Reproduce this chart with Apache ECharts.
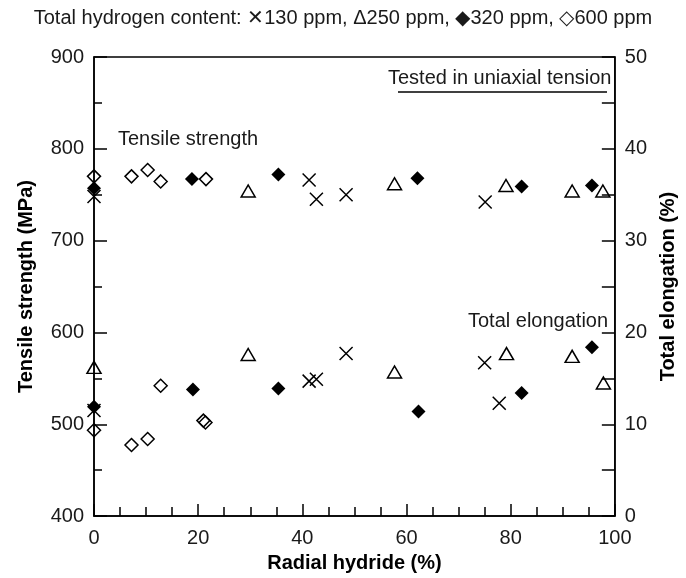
<!DOCTYPE html>
<html>
<head>
<meta charset="utf-8">
<script src="https://cdn.jsdelivr.net/npm/echarts@6/dist/echarts.min.js"></script>
<style>html,body{margin:0;padding:0;background:#fff;}#c{width:686px;height:578px;}</style>
</head>
<body>
<div id="c"></div>
<script>
// Radial hydride (%) vs tensile strength (MPa) / total elongation (%)
var h130Strength = [[0,748],[41.3,766],[42.7,745],[48.4,750],[75.1,742]];
var h130Elong    = [[0,11.5],[41.3,14.7],[42.7,14.9],[48.4,17.7],[75.0,16.7],[77.8,12.3]];
var h250Strength = [[29.6,754],[57.7,762],[79.1,760],[91.8,754],[97.7,754]];
var h250Elong    = [[0,16.2],[29.6,17.6],[57.7,15.7],[79.2,17.7],[91.8,17.4],[97.8,14.5]];
var h320Strength = [[0,757],[18.8,767],[35.4,772],[62.1,768],[82.1,759],[95.6,760]];
var h320Elong    = [[0,11.9],[19.0,13.8],[35.4,13.9],[62.3,11.4],[82.1,13.4],[95.6,18.4]];
var h600Strength = [[0,770],[7.2,770],[10.3,777],[12.8,764.5],[21.5,767]];
var h600Elong    = [[0,9.35],[7.2,7.75],[10.3,8.4],[12.8,14.2],[21.0,10.4],[21.4,10.2]];

var titleText = 'Total hydrogen content: \u2715130 ppm, \u0394250 ppm, \u25C6320 ppm, \u25C7600 ppm';
var xName = 'Radial hydride (%)';
var yLeftName = 'Tensile strength (MPa)';
var yRightName = 'Total elongation (%)';

var FONT = '"Liberation Sans", Arial, sans-serif';
var TXT = '#1a1a1a';
var chart = echarts.init(document.getElementById('c'));

var xSym = 'path://M0,0L10,10M0,10L10,0';
function mk(name, data, yi, symbol, size, filled) {
  return {
    name: name, type: 'scatter', data: data, yAxisIndex: yi,
    symbol: symbol, symbolSize: size,
    itemStyle: {
      color: filled ? '#000' : 'rgba(0,0,0,0)',
      borderColor: '#000', borderWidth: filled ? 0 : 1.5, opacity: 1
    },
    emphasis: {disabled: true}
  };
}

var tickLabel = {color: TXT, fontFamily: FONT, fontSize: 20};
var nameStyle = {color: '#000', fontFamily: FONT, fontSize: 20, fontWeight: 'bold'};

chart.setOption({
  animation: false,
  backgroundColor: '#fff',
  grid: {left: 94, right: 67, top: 57, bottom: 61, show: true, borderColor: '#000', borderWidth: 1.5},
  title: {
    text: titleText, left: 'center', top: 3,
    textStyle: {color: TXT, fontFamily: FONT, fontSize: 20, fontWeight: 'normal'}
  },
  xAxis: {
    type: 'value', min: 0, max: 100, interval: 20,
    name: xName, nameLocation: 'middle', nameGap: 36, nameTextStyle: nameStyle,
    axisLine: {lineStyle: {color: '#000', width: 1.5}},
    axisTick: {inside: true, length: 12, lineStyle: {color: '#000', width: 1.5}},
    minorTick: {show: true, splitNumber: 4, length: 9, lineStyle: {color: '#000', width: 1.5}},
    axisLabel: Object.assign({margin: 12}, tickLabel),
    splitLine: {show: false}
  },
  yAxis: [{
    type: 'value', min: 400, max: 900, interval: 100, position: 'left',
    name: yLeftName, nameLocation: 'middle', nameGap: 58, nameRotate: 90, nameTextStyle: nameStyle,
    axisLine: {show: true, lineStyle: {color: '#000', width: 1.5}},
    axisTick: {show: true, inside: true, length: 13, lineStyle: {color: '#000', width: 1.5}},
    minorTick: {show: true, splitNumber: 2, length: 8, lineStyle: {color: '#000', width: 1.5}},
    axisLabel: Object.assign({margin: 10}, tickLabel),
    splitLine: {show: false}
  }, {
    type: 'value', min: 0, max: 50, interval: 10, position: 'right',
    name: yRightName, nameLocation: 'middle', nameGap: 42, nameRotate: 90, nameTextStyle: nameStyle,
    axisLine: {show: true, lineStyle: {color: '#000', width: 1.5}},
    axisTick: {show: true, inside: true, length: 13, lineStyle: {color: '#000', width: 1.5}},
    minorTick: {show: true, splitNumber: 2, length: 13, lineStyle: {color: '#000', width: 1.5}},
    axisLabel: Object.assign({margin: 10}, tickLabel),
    splitLine: {show: false}
  }],
  series: [
    mk('130 ppm', h130Strength, 0, xSym, 13, false),
    mk('130 ppm', h130Elong, 1, xSym, 13, false),
    mk('250 ppm', h250Strength, 0, 'triangle', [14, 12], false),
    mk('250 ppm', h250Elong, 1, 'triangle', [14, 12], false),
    mk('320 ppm', h320Strength, 0, 'diamond', [14, 14], true),
    mk('320 ppm', h320Elong, 1, 'diamond', [14, 14], true),
    mk('600 ppm', h600Strength, 0, 'diamond', [13, 13], false),
    mk('600 ppm', h600Elong, 1, 'diamond', [13, 13], false)
  ],
  graphic: [
    {type: 'text', left: 118, top: 129, style: {text: 'Tensile strength', fill: TXT, font: '20px ' + FONT}},
    {type: 'text', left: 388, top: 68, style: {text: 'Tested in uniaxial tension', fill: TXT, font: '20px ' + FONT}},
    {type: 'line', shape: {x1: 398, y1: 92, x2: 607, y2: 92}, style: {stroke: '#000', lineWidth: 1.5}},
    {type: 'text', left: 468, top: 311, style: {text: 'Total elongation', fill: TXT, font: '20px ' + FONT}}
  ]
});
</script>
</body>
</html>
